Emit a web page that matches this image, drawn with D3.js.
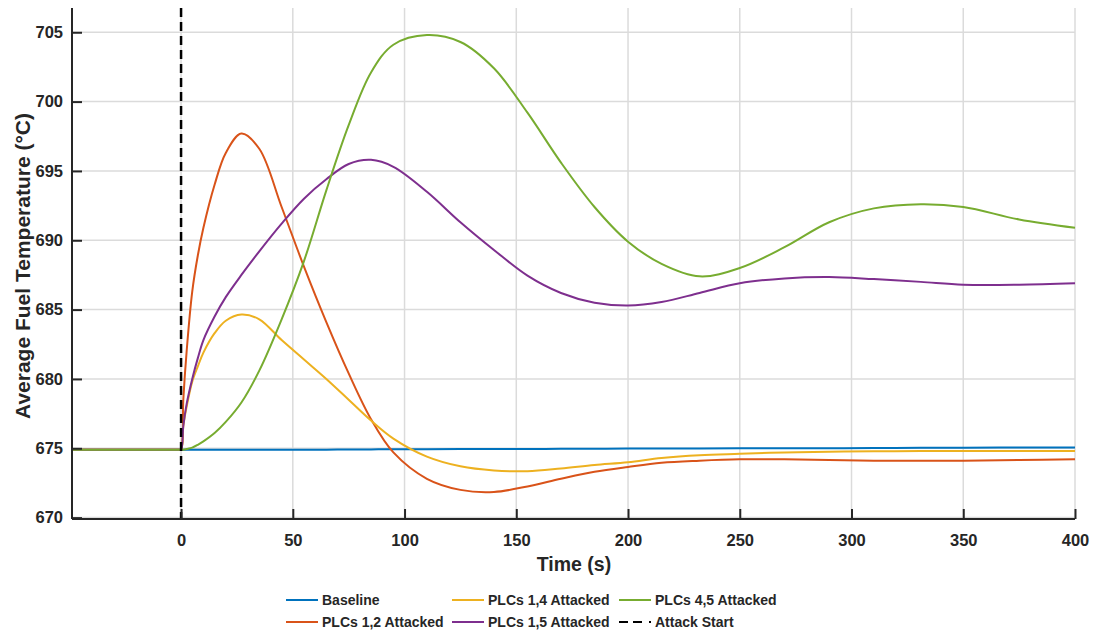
<!DOCTYPE html>
<html>
<head>
<meta charset="utf-8">
<script src="https://cdn.jsdelivr.net/npm/d3@7"></script>
<style>
  body { margin: 0; background: #fff; }
  text { font-family: "Liberation Sans", Arial, sans-serif; font-weight: bold; fill: #262626; }
</style>
</head>
<body>
<script>
var w = 1094;
var h = 635;

// time samples (s)
var times = [-48.8, -1, 0, 1, 2.5, 5, 7.5, 10, 15, 20, 27, 35, 45, 55, 65, 75, 85, 95, 110, 125, 140,
             155, 170, 185, 200, 215, 232, 250, 270, 290, 310, 331, 350, 375, 400];

var baseline = [674.9, 674.9, 674.9, 674.9, 674.9, 674.9, 674.9, 674.9, 674.9, 674.9, 674.9, 674.9, 674.9, 674.9, 674.9,
                674.92, 674.92, 674.93, 674.93, 674.94, 674.95, 674.95, 674.96, 674.97, 674.98, 674.98, 674.99,
                675.0, 675.0, 675.0, 675.02, 675.03, 675.04, 675.05, 675.05];
var plc12 = [674.9, 674.9, 674.9, 678.5, 682.0, 686.3, 688.9, 690.9, 694.0, 696.3, 697.7, 696.6, 692.4, 688.1, 684.1,
             680.4, 677.1, 674.7, 672.8, 672.0, 671.85, 672.25, 672.8, 673.3, 673.65, 673.95, 674.1, 674.2,
             674.2, 674.15, 674.1, 674.1, 674.1, 674.15, 674.2];
var plc14 = [674.9, 674.9, 674.9, 676.6, 678.0, 679.8, 680.9, 681.9, 683.3, 684.2, 684.65, 684.3, 682.8, 681.4, 680.0,
             678.5, 677.0, 675.7, 674.4, 673.7, 673.4, 673.35, 673.55, 673.8, 674.0, 674.3, 674.5, 674.6,
             674.7, 674.75, 674.78, 674.8, 674.8, 674.8, 674.8];
var plc15 = [674.9, 674.9, 674.9, 676.6, 678.2, 680.0, 681.5, 682.8, 684.5, 685.9, 687.5, 689.2, 691.2, 693.0, 694.4,
             695.5, 695.8, 695.3, 693.5, 691.3, 689.3, 687.45, 686.2, 685.5, 685.3, 685.55, 686.2, 686.9,
             687.25, 687.35, 687.2, 687.0, 686.8, 686.8, 686.9];
var plc45 = [674.9, 674.9, 674.9, 674.9, 674.95, 675.05, 675.25, 675.5, 676.1, 676.9, 678.3, 680.6, 684.3, 688.5, 693.6,
             698.3, 702.1, 704.1, 704.8, 704.3, 702.4, 699.2, 695.6, 692.4, 689.9, 688.3, 687.4, 688.0,
             689.5, 691.3, 692.3, 692.6, 692.4, 691.5, 690.9];

var seriesNames = ["Baseline", "PLCs 1,2 Attacked", "PLCs 1,4 Attacked", "PLCs 1,5 Attacked", "PLCs 4,5 Attacked"];
var seriesValues = [baseline, plc12, plc14, plc15, plc45];
var colors = ["#0072BD", "#D95319", "#EDB120", "#7E2F8E", "#77AC30"];

var xTicks = [0, 50, 100, 150, 200, 250, 300, 350, 400];
var yTicks = [670, 675, 680, 685, 690, 695, 700, 705];
var attackTime = 0;

var plotL = 72, plotR = 1075, plotT = 8, plotB = 519;

var svg = d3.select("body").append("svg").attr("width", w).attr("height", h);

var xScale = d3.scaleLinear().domain([-48.8, 400]).range([plotL, plotR]);
var yScale = d3.scaleLinear().domain([669.9, 706.75]).range([plotB, plotT]);

// grid
svg.append("g").selectAll("line")
    .data(xTicks).enter().append("line")
    .attr("x1", d => xScale(d)).attr("x2", d => xScale(d))
    .attr("y1", plotT).attr("y2", plotB)
    .attr("stroke", "#dbdbdb").attr("stroke-width", 1.5);
svg.append("g").selectAll("line")
    .data(yTicks).enter().append("line")
    .attr("x1", plotL).attr("x2", plotR)
    .attr("y1", d => yScale(d)).attr("y2", d => yScale(d))
    .attr("stroke", "#dbdbdb").attr("stroke-width", 1.5);

// lines
var line = d3.line()
    .x((d, i) => xScale(times[i]))
    .y(d => yScale(d))
    .curve(d3.curveCatmullRom.alpha(0.5));

svg.append("g").selectAll("path")
    .data(seriesValues).enter().append("path")
    .attr("d", d => line(d))
    .attr("fill", "none")
    .attr("stroke", (d, i) => colors[i])
    .attr("stroke-width", 2);

// attack start
svg.append("line")
    .attr("x1", xScale(attackTime)).attr("x2", xScale(attackTime))
    .attr("y1", plotT).attr("y2", plotB)
    .attr("stroke", "#000").attr("stroke-width", 2.5)
    .attr("stroke-dasharray", "9,5");

// axes
var xAxis = d3.axisBottom(xScale).tickValues(xTicks).tickSize(-10).tickPadding(15);
var yAxis = d3.axisLeft(yScale).tickValues(yTicks).tickSize(-10).tickPadding(9);

var gx = svg.append("g").attr("transform", "translate(0," + plotB + ")").call(xAxis);
var gy = svg.append("g").attr("transform", "translate(" + plotL + ",0)").call(yAxis);

[gx, gy].forEach(g => {
    g.select(".domain").remove();
    g.selectAll(".tick line").attr("stroke", "#262626").attr("stroke-width", 2);
    g.selectAll(".tick text").attr("font-size", "16.5px").attr("fill", "#262626")
        .style("font-family", "'Liberation Sans', Arial, sans-serif").style("font-weight", "bold");
});
svg.append("line").attr("x1", plotL).attr("x2", plotR).attr("y1", plotB).attr("y2", plotB)
    .attr("stroke", "#262626").attr("stroke-width", 2);
svg.append("line").attr("x1", plotL).attr("x2", plotL).attr("y1", plotT).attr("y2", plotB)
    .attr("stroke", "#262626").attr("stroke-width", 2);

// axis titles
svg.append("text")
    .attr("x", 574).attr("y", 571)
    .attr("text-anchor", "middle")
    .attr("font-size", "19.5px")
    .text("Time (s)");

svg.append("text")
    .attr("transform", "translate(30,266) rotate(-90)")
    .attr("text-anchor", "middle")
    .attr("font-size", "21px")
    .text("Average Fuel Temperature (°C)");

// legend
var legendItems = [
    { name: seriesNames[0], color: colors[0], col: 0, row: 0 },
    { name: seriesNames[1], color: colors[1], col: 0, row: 1 },
    { name: seriesNames[2], color: colors[2], col: 1, row: 0 },
    { name: seriesNames[3], color: colors[3], col: 1, row: 1 },
    { name: seriesNames[4], color: colors[4], col: 2, row: 0 },
    { name: "Attack Start", color: "#000", col: 2, row: 1, dash: true }
];
var colX = [286, 452, 619];
var rowY = [600, 622];

var lg = svg.append("g").selectAll("g")
    .data(legendItems).enter().append("g")
    .attr("transform", d => "translate(" + colX[d.col] + "," + rowY[d.row] + ")");

lg.append("line")
    .attr("x1", 0).attr("x2", 32).attr("y1", 0).attr("y2", 0)
    .attr("stroke", d => d.color)
    .attr("stroke-width", 2)
    .attr("stroke-dasharray", d => d.dash ? "9,5,9,7,2" : null);

lg.append("text")
    .attr("x", 36).attr("y", 5)
    .attr("font-size", "14px")
    .text(d => d.name);
</script>
</body>
</html>
